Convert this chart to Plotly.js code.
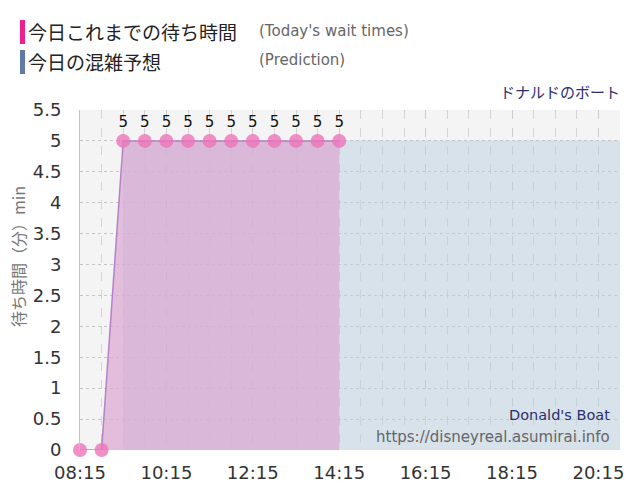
<!DOCTYPE html>
<html>
<head>
<meta charset="utf-8">
<script src="https://cdn.plot.ly/plotly-3.0.1.min.js"></script>
<style>html,body{margin:0;padding:0;background:#fff;}#chart{width:640px;height:500px;}</style>
</head>
<body>
<div id="chart"></div>
<script>
var day = '2024-01-01 ';
var waitTimes = ['08:15','08:45','09:15','09:45','10:15','10:45','11:15','11:45','12:15','12:45','13:15','13:45','14:15'];
var waitValues = [0,0,5,5,5,5,5,5,5,5,5,5,5];
var predTimes = ['09:15','09:45','10:15','10:45','11:15','11:45','12:15','12:45','13:15','13:45','14:15','14:45','15:15','15:45','16:15','16:45','17:15','17:45','18:15','18:45','19:15','19:45','20:15','20:45'];
var predValues = [5,5,5,5,5,5,5,5,5,5,5,5,5,5,5,5,5,5,5,5,5,5,5,5];
var tickTimes = ['08:15','10:15','12:15','14:15','16:15','18:15','20:15'];
var xRange = ['08:15','20:45'];

var L = 80, R = 620, T = 110, B = 450;
function px(x){ return (x - L) / (R - L); }
function py(y){ return (B - y) / (B - T); }

var tickFont = {family:'DejaVu Sans, sans-serif', size:18, color:'#333'};
var jp = 'Noto Sans CJK JP, sans-serif';

var pred = {
  x: predTimes.map(function(t){return day+t;}),
  y: predValues,
  type:'scatter', mode:'lines',
  line:{color:'rgba(188,208,224,0.5)', width:1},
  fill:'tozeroy', fillcolor:'rgba(188,208,224,0.5)',
  hoverinfo:'skip', showlegend:false
};
var wait = {
  x: waitTimes.map(function(t){return day+t;}),
  y: waitValues,
  type:'scatter', mode:'lines+markers+text',
  text: waitValues.map(function(v){return v>0 ? String(v) : '';}),
  textposition:'top center',
  textfont:{family:'DejaVu Sans, sans-serif', size:15, color:'#111'},
  line:{color:'rgba(175,120,195,0.9)', width:1.5},
  marker:{size:14, color:'rgba(238,115,186,0.8)'},
  fill:'tozeroy', fillcolor:'rgba(220,167,210,0.7)',
  cliponaxis:false,
  hoverinfo:'skip', showlegend:false
};

var layout = {
  width:640, height:500,
  margin:{l:L, r:640-R, t:T, b:500-B},
  paper_bgcolor:'#fff', plot_bgcolor:'#f4f4f4',
  showlegend:false,
  xaxis:{
    type:'date',
    range: xRange.map(function(t){return day+t;}),
    tickvals: tickTimes.map(function(t){return day+t;}),
    ticktext: tickTimes,
    tickfont: tickFont,
    ticks:'outside', ticklen:6, tickcolor:'rgba(0,0,0,0)',
    showgrid:true, gridcolor:'#cdcdcd', griddash:'dash', gridwidth:1,
    minor:{dtick:1800000, tick0: day+'08:15', showgrid:true, gridcolor:'#d4d4d4', griddash:'dash', gridwidth:1},
    zeroline:false, showline:false, fixedrange:true
  },
  yaxis:{
    range:[0,5.5], dtick:0.5, tick0:0,
    tickfont: tickFont,
    ticks:'outside', ticklen:14, tickcolor:'rgba(0,0,0,0)',
    showgrid:true, gridcolor:'#c6c6c6', griddash:'dot', gridwidth:1,
    zeroline:false, showline:true, linecolor:'#c4c4c4', linewidth:1,
    fixedrange:true
  },
  shapes:[
    {type:'rect', xref:'paper', yref:'paper', x0:px(20), x1:px(25), y0:py(44), y1:py(20), fillcolor:'#ee1f8e', line:{width:0}},
    {type:'rect', xref:'paper', yref:'paper', x0:px(20), x1:px(25), y0:py(74), y1:py(50), fillcolor:'#6079a6', line:{width:0}}
  ],
  annotations:[
    {xref:'paper', yref:'paper', x:px(18), y:py(257), xanchor:'center', yanchor:'middle', textangle:-90, showarrow:false, text:'待ち時間（分）min', font:{family:jp, size:16, color:'#777'}},
    {xref:'paper', yref:'paper', x:px(26), y:py(32), xanchor:'left', yanchor:'middle', showarrow:false, text:'今日これまでの待ち時間', font:{family:jp, size:19, color:'#222'}},
    {xref:'paper', yref:'paper', x:px(257), y:py(31), xanchor:'left', yanchor:'middle', showarrow:false, text:"(Today's wait times)", font:{family:'DejaVu Sans, sans-serif', size:15, color:'#666'}},
    {xref:'paper', yref:'paper', x:px(26), y:py(61), xanchor:'left', yanchor:'middle', showarrow:false, text:'今日の混雑予想', font:{family:jp, size:19, color:'#222'}},
    {xref:'paper', yref:'paper', x:px(257), y:py(60), xanchor:'left', yanchor:'middle', showarrow:false, text:'(Prediction)', font:{family:'DejaVu Sans, sans-serif', size:15, color:'#666'}},
    {xref:'paper', yref:'paper', x:px(622), y:py(91), xanchor:'right', yanchor:'middle', showarrow:false, text:'ドナルドのボート', font:{family:jp, size:15, color:'#2b2f6e'}},
    {xref:'paper', yref:'paper', x:px(612), y:py(415), xanchor:'right', yanchor:'middle', showarrow:false, text:"Donald's Boat", font:{family:'DejaVu Sans, sans-serif', size:14.5, color:'#2b2f6e'}},
    {xref:'paper', yref:'paper', x:px(612), y:py(437), xanchor:'right', yanchor:'middle', showarrow:false, text:'https://disneyreal.asumirai.info', font:{family:'DejaVu Sans, sans-serif', size:15, color:'#666'}}
  ]
};

Plotly.newPlot('chart', [pred, wait], layout, {staticPlot:true, displayModeBar:false});
</script>
</body>
</html>
